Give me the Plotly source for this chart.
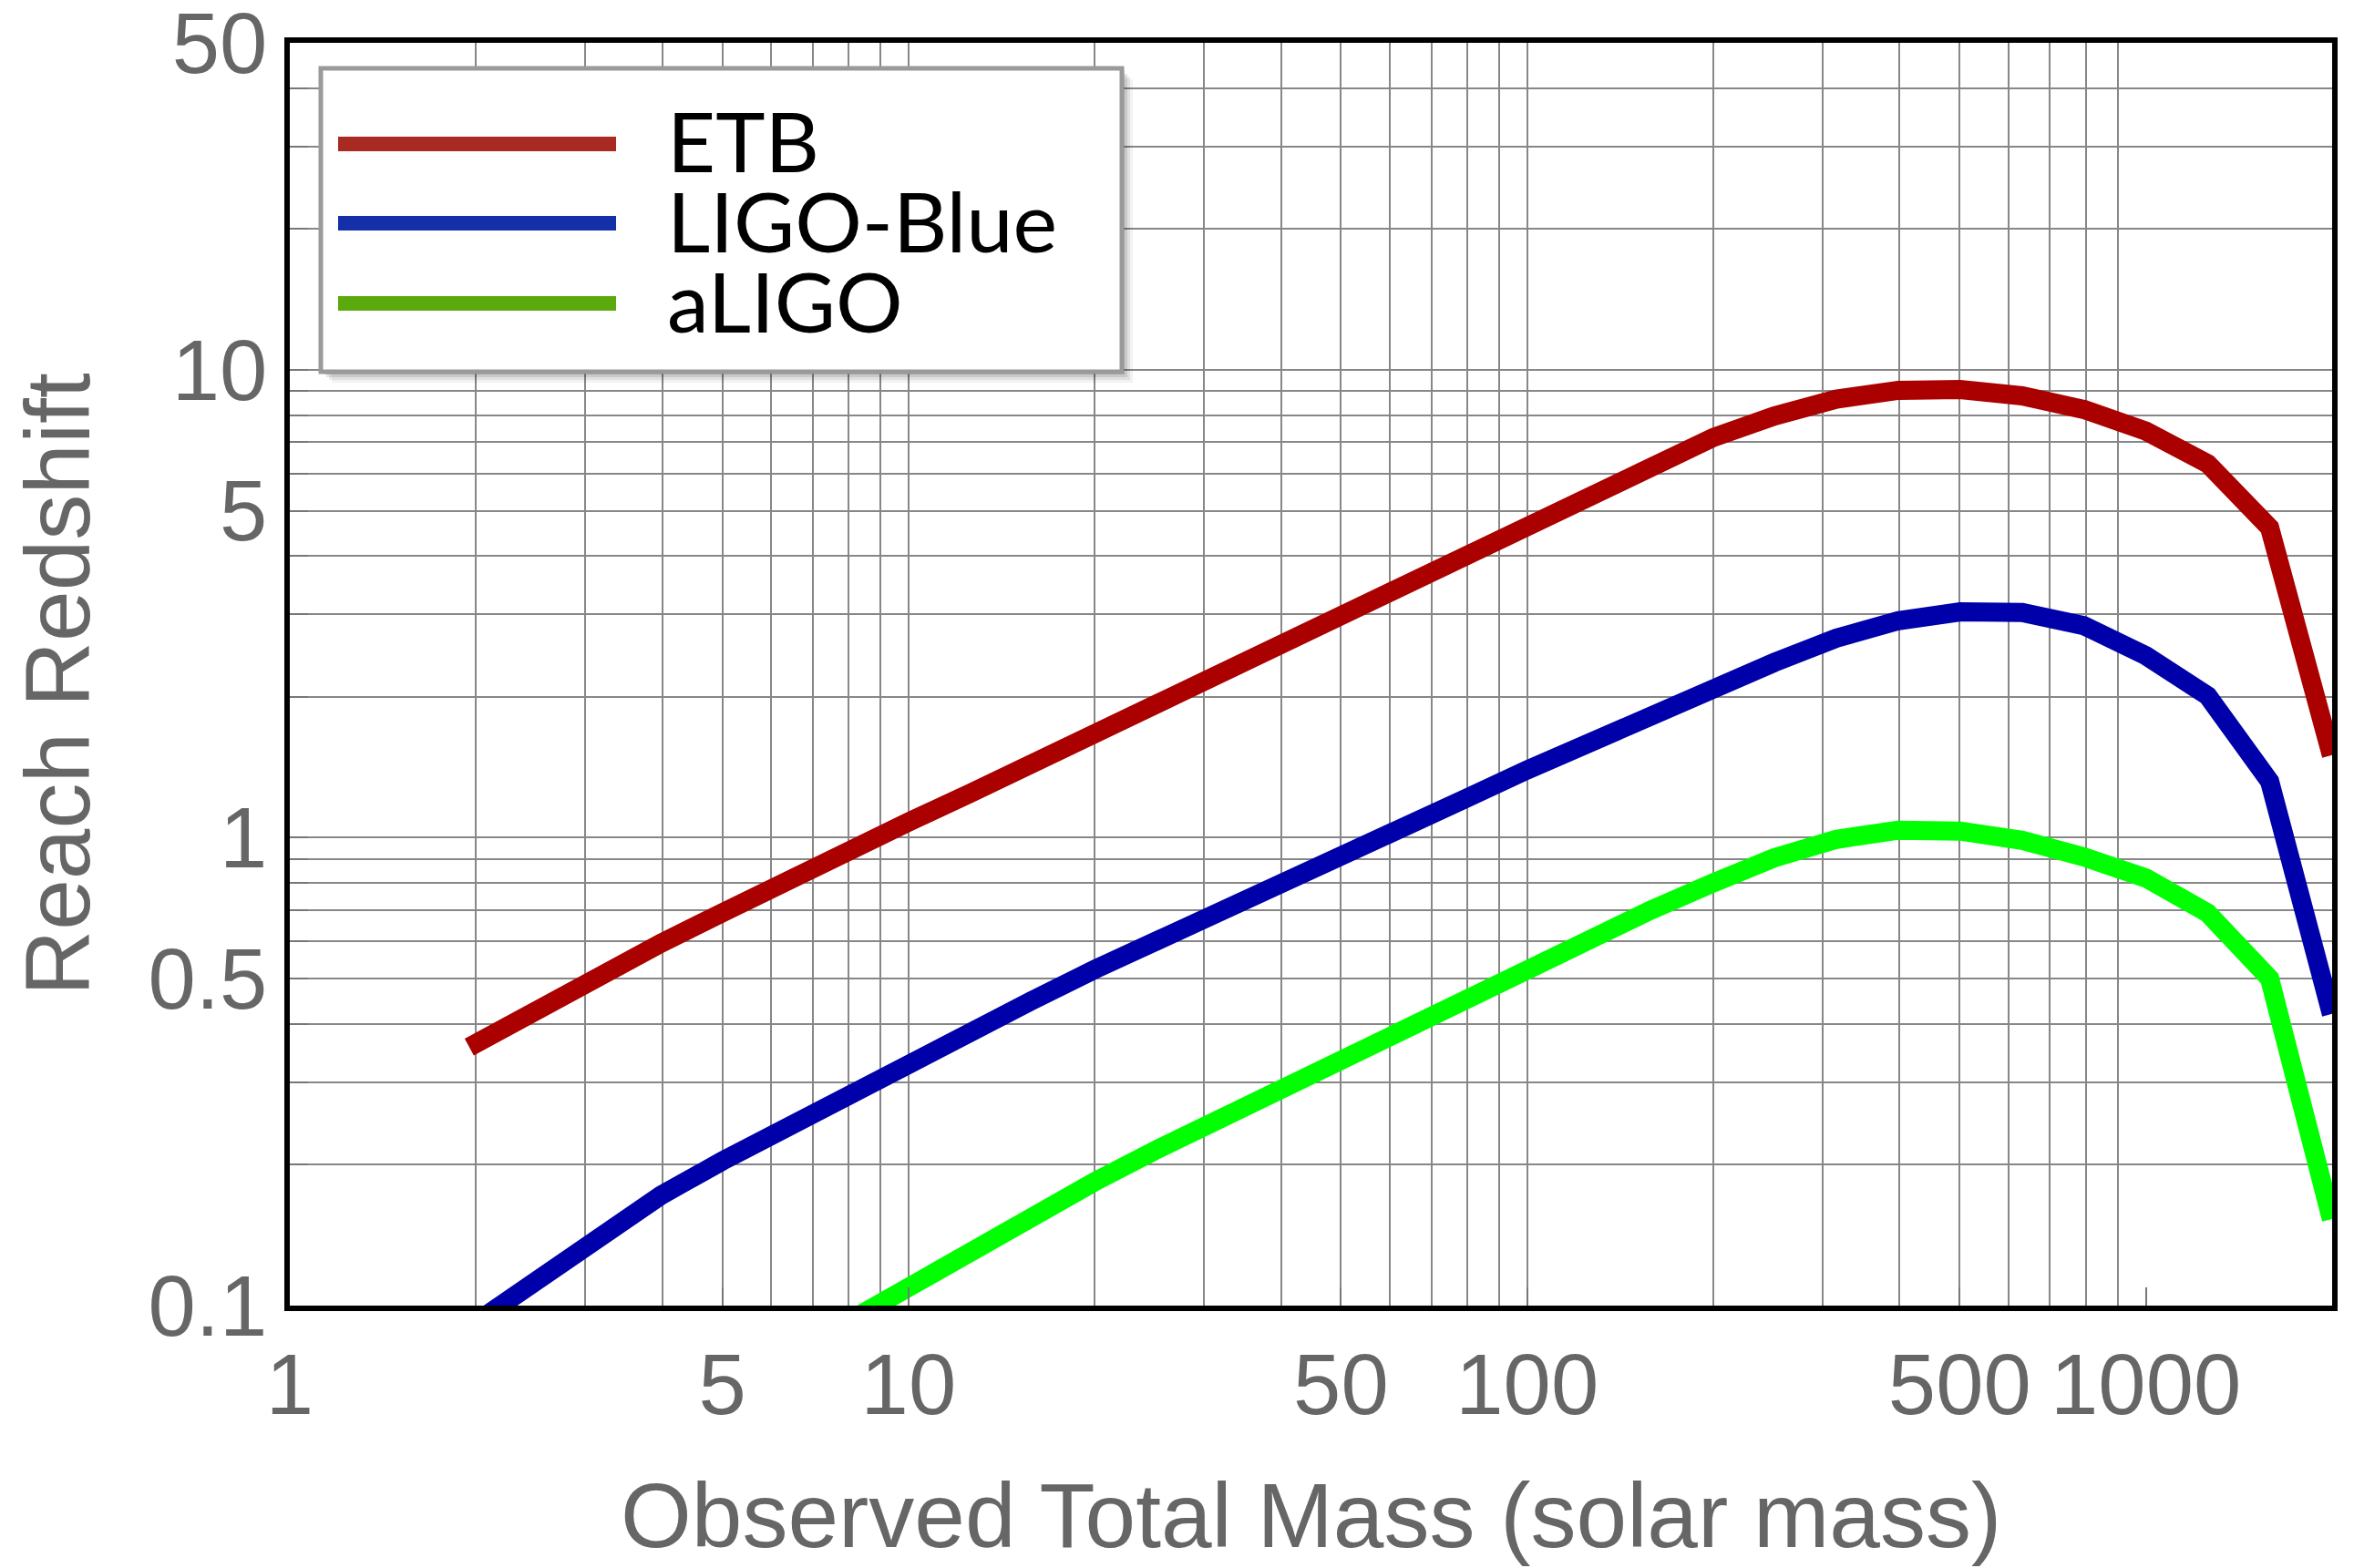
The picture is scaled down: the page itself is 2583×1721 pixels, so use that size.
import math
import plotly.graph_objects as go

# Observed total mass (solar masses), sampled every 0.1 dex
mass = [1.95, 2.51, 3.16, 3.98, 5.01, 6.31, 7.94, 10.0, 12.6, 15.8, 20.0,
        25.1, 31.6, 39.8, 50.1, 63.1, 79.4, 100, 126, 158, 200, 251, 316,
        398, 501, 631, 794, 1000, 1259, 1585, 1995]

# Reach redshift for each detector
etb = [0.357, 0.430, 0.508, 0.595, 0.692, 0.807, 0.935, 1.08, 1.246, 1.438,
       1.665, 1.92, 2.22, 2.576, 2.99, 3.48, 4.03, 4.68, 5.40, 6.22, 7.17,
       7.97, 8.66, 9.04, 9.08, 8.80, 8.23, 7.40, 6.30, 4.60, 1.50]

ligo_blue = [0.09, 0.114, 0.141, 0.172, 0.204, 0.240, 0.281, 0.329, 0.384,
             0.448, 0.523, 0.603, 0.695, 0.797, 0.917, 1.052, 1.211, 1.396,
             1.60, 1.83, 2.10, 2.37, 2.67, 2.91, 3.04, 3.03, 2.84, 2.45,
             2.01, 1.32, 0.42]

mass_aligo = mass[6:]
aligo = [0.092, 0.110, 0.131, 0.155, 0.184, 0.215, 0.250, 0.289, 0.334,
         0.390, 0.454, 0.527, 0.607, 0.699, 0.801, 0.906, 0.992, 1.038,
         1.033, 0.987, 0.910, 0.820, 0.69, 0.50, 0.153]

series_names = ["ETB", "LIGO-Blue", "aLIGO"]
line_colors = ["#aa0000", "#0000aa", "#00ff00"]
legend_colors = ["#a82a22", "#152fa8", "#5aaa0e"]

# Axis ticks and grid
x_tick_vals = [1, 5, 10, 50, 100, 500, 1000]
x_tick_text = ["1", "5", "10", "50", "100", "500", "1000"]
x_grid = [2, 3, 4, 5, 6, 7, 8, 9, 10, 20, 30, 40, 50, 60, 70, 80, 90, 100,
          200, 300, 400, 500, 600, 700, 800, 900]
y_tick_vals = [0.1, 0.5, 1, 5, 10, 50]
y_tick_text = ["0.1", "0.5", "1", "5", "10", "50"]
y_grid = [0.2, 0.3, 0.4, 0.5, 0.6, 0.7, 0.8, 0.9, 1, 2, 3, 4, 5, 6, 7, 8, 9,
          10, 20, 30, 40]

W, H = 2583, 1721
L, R, T, B = 318, 24, 47, 288
PW, PH = W - L - R, H - T - B


def px(x):
    return (x - L) / PW


def py(y):
    return (H - B - y) / PH


fig = go.Figure()
for name, xs, ys, col in zip(series_names, [mass, mass, mass_aligo],
                             [etb, ligo_blue, aligo], line_colors):
    fig.add_trace(go.Scatter(x=xs, y=ys, mode="lines", name=name,
                             line=dict(color=col, width=21)))

tick_font = dict(family="Liberation Sans, Arial, sans-serif", size=94, color="#666666")
grid_col = "#878787"

fig.update_xaxes(
    type="log", range=[0, math.log10(2000)],
    tickmode="array", tickvals=x_tick_vals, ticktext=x_tick_text,
    tickangle=0, tickfont=tick_font, showgrid=False, zeroline=False,
    ticklabeloverflow="allow", automargin=False,
    ticks="inside", ticklen=20, tickwidth=1.5, tickcolor="#777777",
    showline=True, linecolor="black", linewidth=6, mirror=True,
    minor=dict(tickmode="array", tickvals=x_grid, showgrid=True,
               gridcolor=grid_col, gridwidth=2, ticks=""),
)
fig.update_yaxes(
    type="log", range=[-1, math.log10(50.0005)],
    tickmode="array", tickvals=y_tick_vals, ticktext=y_tick_text,
    tickfont=tick_font, showgrid=False, zeroline=False,
    ticklabeloverflow="allow", automargin=False,
    ticks="inside", ticklen=20, tickwidth=1.5, tickcolor="#777777",
    showline=True, linecolor="black", linewidth=6, mirror=True,
    minor=dict(tickmode="array", tickvals=y_grid, showgrid=True,
               gridcolor=grid_col, gridwidth=2, ticks="inside", ticklen=20,
               tickcolor="#777777", tickwidth=1.5),
)

title_font = dict(family="Liberation Sans, Arial, sans-serif", size=100, color="#666666")
annotations = [
    dict(text="Observed Total Mass (solar mass)", xref="paper", yref="paper",
         x=0.5, y=py(1663), xanchor="center", yanchor="middle",
         showarrow=False, font=title_font),
    dict(text="Reach Redshift", xref="paper", yref="paper",
         x=px(63), y=py(751), xanchor="center", yanchor="middle",
         textangle=-90, showarrow=False, font=title_font),
]

# Legend box with soft drop shadow
bx0, by0, bx1, by1 = 352, 75, 1231, 408
shapes = []
for off, op in [(12, 0.05), (9, 0.07), (6, 0.10), (3, 0.14)]:
    shapes.append(dict(type="rect", xref="paper", yref="paper", layer="above",
                       x0=px(bx0 + off), x1=px(bx1 + off),
                       y0=py(by0 + off), y1=py(by1 + off),
                       fillcolor="#000000", opacity=op, line=dict(width=0)))
shapes.append(dict(type="rect", xref="paper", yref="paper", layer="above",
                   x0=px(bx0), x1=px(bx1), y0=py(by0), y1=py(by1),
                   fillcolor="white", line=dict(color="#9a9a9a", width=5)))

legend_font = dict(family="Lato, Liberation Sans, sans-serif", size=92, color="black")
row_y = [158, 245, 333]
for name, col, yy in zip(series_names, legend_colors, row_y):
    shapes.append(dict(type="line", xref="paper", yref="paper", layer="above",
                       x0=px(371), x1=px(676), y0=py(yy), y1=py(yy),
                       line=dict(color=col, width=16)))
    annotations.append(dict(text=name, xref="paper", yref="paper",
                            x=px(730), y=py(yy - 4), xanchor="left",
                            yanchor="middle", showarrow=False, font=legend_font))

fig.update_layout(
    width=W, height=H, margin=dict(l=L, r=R, t=T, b=B, autoexpand=False),
    paper_bgcolor="white", plot_bgcolor="white", showlegend=False,
    shapes=shapes, annotations=annotations,
)

fig.write_html("out.html")
